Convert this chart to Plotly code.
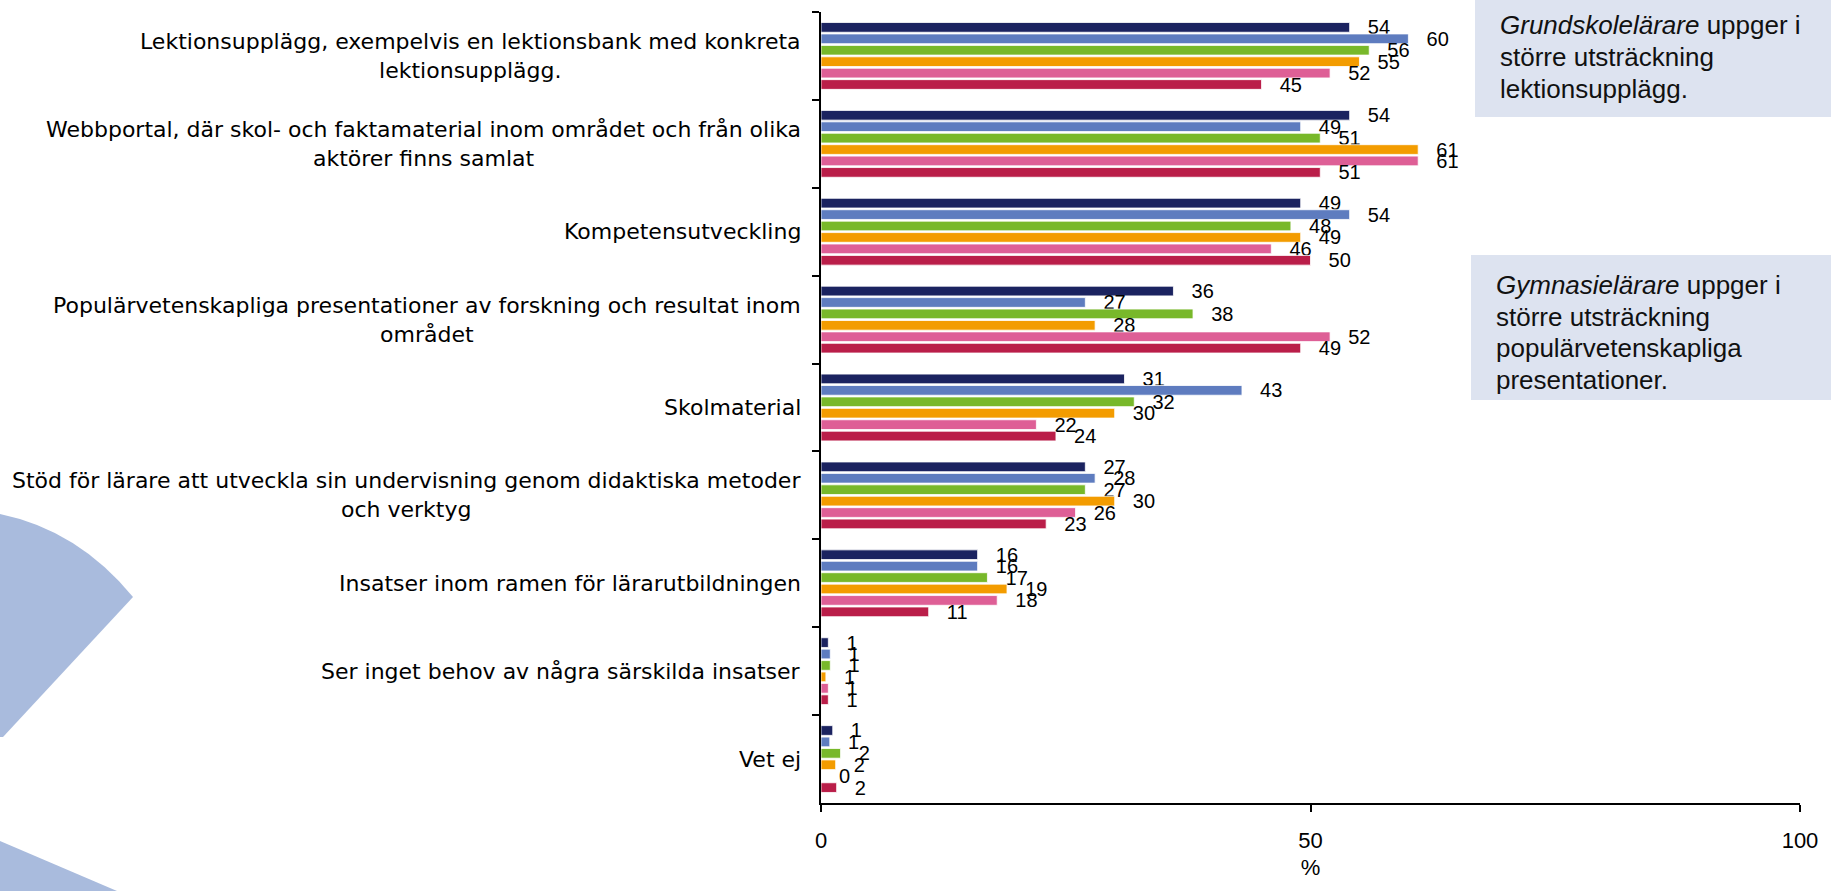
import math
import plotly.graph_objects as go

# ---------------- data ----------------
categories = [
    "Lektionsupplägg, exempelvis en lektionsbank med konkreta lektionsupplägg.",
    "Webbportal, där skol- och faktamaterial inom området och från olika aktörer finns samlat",
    "Kompetensutveckling",
    "Populärvetenskapliga presentationer av forskning och resultat inom området",
    "Skolmaterial",
    "Stöd för lärare att utveckla sin undervisning genom didaktiska metoder och verktyg",
    "Insatser inom ramen för lärarutbildningen",
    "Ser inget behov av några särskilda insatser",
    "Vet ej",
]
category_labels = [
    "Lektionsupplägg, exempelvis en lektionsbank med konkreta<br>lektionsupplägg.",
    "Webbportal, där skol- och faktamaterial inom området och från olika<br>aktörer finns samlat",
    "Kompetensutveckling",
    "Populärvetenskapliga presentationer av forskning och resultat inom<br>området",
    "Skolmaterial",
    "Stöd för lärare att utveckla sin undervisning genom didaktiska metoder<br>och verktyg",
    "Insatser inom ramen för lärarutbildningen",
    "Ser inget behov av några särskilda insatser",
    "Vet ej",
]

series_names = ["Grupp 1", "Grupp 2", "Grupp 3", "Grupp 4", "Grupp 5", "Grupp 6"]
series_1 = [54, 54, 49, 36, 31, 27, 16, 0.75, 1.2]
series_2 = [60, 49, 54, 27, 43, 28, 16, 0.95, 0.9]
series_3 = [56, 51, 48, 38, 32, 27, 17, 0.95, 2.0]
series_4 = [55, 61, 49, 28, 30, 30, 19, 0.5, 1.5]
series_5 = [52, 61, 46, 52, 22, 26, 18, 0.75, 0]
series_6 = [45, 51, 50, 49, 24, 23, 11, 0.75, 1.6]
series_values = [series_1, series_2, series_3, series_4, series_5, series_6]
series_colors = ["#1B2360", "#5E7CBF", "#78B82A", "#F39C00", "#DE5F96", "#BA1E49"]

x_ticks = [0, 50, 100]
x_title = "%"

box1_lines = ["<i>Grundskolelärare</i> uppger i", "större utsträckning", "lektionsupplägg."]
box2_lines = ["<i>Gymnasielärare</i> uppger i", "större utsträckning",
              "populärvetenskapliga", "presentationer."]

# ---------------- layout helpers ----------------
W, H = 1831, 891
FONT = "Liberation Sans, Arial, sans-serif"
CAT_FONT = "DejaVu Sans, Liberation Sans, Arial, sans-serif"


def px(x):
    return x / W


def py(y):
    return 1 - y / H


fig = go.Figure()

for name, vals, col in zip(series_names, series_values, series_colors):
    labels = ["\u00a0\u00a0\u2009" + str(int(math.floor(v + 0.5))) for v in vals]
    fig.add_trace(go.Bar(
        name=name,
        y=categories,
        x=vals,
        orientation="h",
        marker=dict(color=col, line=dict(color="white", width=0.8)),
        text=labels,
        textposition="outside",
        textfont=dict(family=FONT, size=20, color="#000000"),
        constraintext="none",
        cliponaxis=False,
        showlegend=False,
    ))

fig.update_layout(
    width=W, height=H,
    margin=dict(l=0, r=0, t=0, b=0, pad=0, autoexpand=False),
    paper_bgcolor="white",
    plot_bgcolor="rgba(0,0,0,0)",
    barmode="group",
    bargap=0.22,
    bargroupgap=0.15,
    showlegend=False,
    font=dict(family=FONT, color="#000000"),
    xaxis=dict(
        domain=[px(821), px(1800)],
        range=[0, 100],
        tickvals=x_ticks,
        ticktext=[str(t) for t in x_ticks],
        showgrid=False, zeroline=False,
        showline=True, linecolor="#000000", linewidth=1.5,
        ticks="outside", ticklen=7, tickwidth=1.5, tickcolor="#000000",
        tickfont=dict(family=FONT, size=22, color="#000000"),
        ticklabelstandoff=10,
        automargin=False,
        title=dict(text=x_title, font=dict(family=FONT, size=22, color="#000000"), standoff=7),
    ),
    yaxis=dict(
        domain=[py(803), py(12)],
        type="category",
        categoryorder="array",
        categoryarray=categories,
        autorange="reversed",
        showgrid=False, zeroline=False,
        showline=True, linecolor="#000000", linewidth=1.5,
        ticks="outside", tickson="boundaries", ticklen=7, tickwidth=1.5, tickcolor="#000000",
        showticklabels=False,
        automargin=False,
    ),
)

# category labels (centered lines, right-aligned block)
for cat, lab in zip(categories, category_labels):
    fig.add_annotation(
        x=px(803), xref="paper", xanchor="right",
        y=cat, yref="y", yanchor="middle",
        text=lab, align="center", showarrow=False,
        font=dict(family=CAT_FONT, size=22, color="#000000"),
    )

# decorative logo segments (left)
deco_col = "#A9BBDD"
p1 = (f"M {px(0)},{py(514)} Q {px(78)},{py(530)} {px(133)},{py(597)} "
      f"L {px(3)},{py(737)} L {px(0)},{py(737)} Z")
p2 = f"M {px(0)},{py(841)} L {px(117)},{py(891)} L {px(0)},{py(891)} Z"
for p in (p1, p2):
    fig.add_shape(type="path", path=p, xref="paper", yref="paper",
                  fillcolor=deco_col, line=dict(width=0), layer="below")

# note boxes
box_col = "#DDE3F0"
fig.add_shape(type="rect", xref="paper", yref="paper",
              x0=px(1475), x1=1, y0=py(117), y1=1,
              fillcolor=box_col, line=dict(width=0), layer="below")
fig.add_shape(type="rect", xref="paper", yref="paper",
              x0=px(1471), x1=1, y0=py(400), y1=py(255),
              fillcolor=box_col, line=dict(width=0), layer="below")

for i, line in enumerate(box1_lines):
    fig.add_annotation(x=px(1498), xref="paper", xanchor="left",
                       y=py(25 + 32 * i), yref="paper", yanchor="middle",
                       text=line, showarrow=False, align="left",
                       font=dict(family=FONT, size=26, color="#111111"))
for i, line in enumerate(box2_lines):
    fig.add_annotation(x=px(1494), xref="paper", xanchor="left",
                       y=py(285 + 31.5 * i), yref="paper", yanchor="middle",
                       text=line, showarrow=False, align="left",
                       font=dict(family=FONT, size=26, color="#111111"))

fig.write_html(
    "out.html",
    config={"displayModeBar": False},
    post_script=("document.body.style.margin='0';"
                 "document.body.style.overflow='hidden';"
                 "document.documentElement.style.overflow='hidden';"),
)
